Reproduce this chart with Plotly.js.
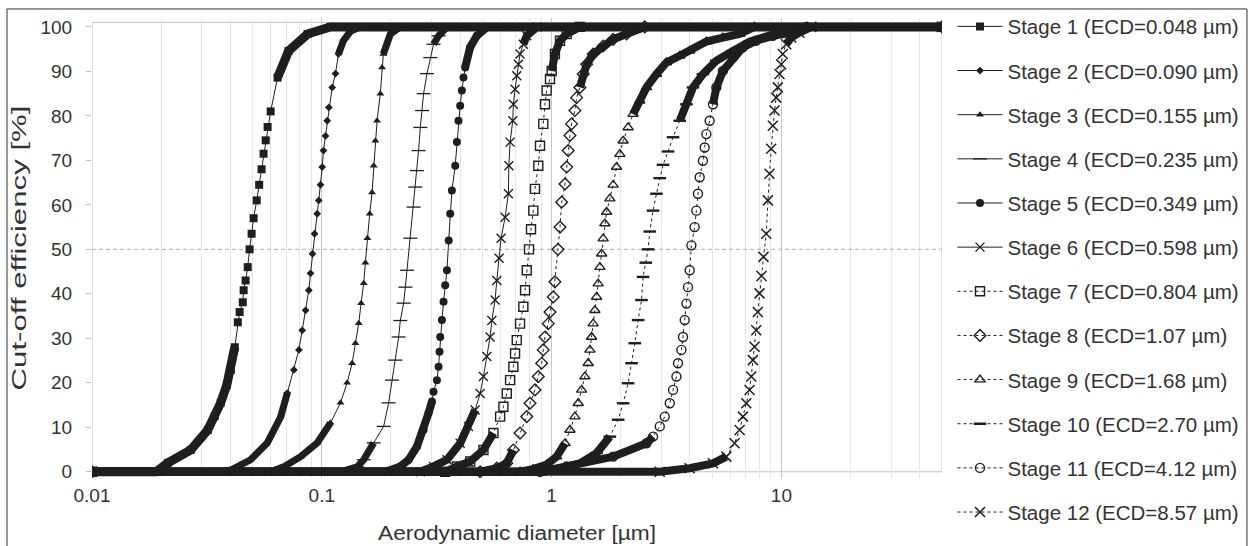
<!DOCTYPE html>
<html>
<head>
<meta charset="utf-8">
<script src="https://cdn.plot.ly/plotly-3.0.1.min.js"></script>
<style>html,body{margin:0;padding:0;background:#fff;}#chart{width:1250px;height:546px;}</style>
</head>
<body>
<div id="chart"></div>
<script>
// ---- Data (aerodynamic diameter in µm, cut-off efficiency in %) ----
const stageNames = ["Stage 1 (ECD=0.048 µm)","Stage 2 (ECD=0.090 µm)","Stage 3 (ECD=0.155 µm)","Stage 4 (ECD=0.235 µm)","Stage 5 (ECD=0.349 µm)","Stage 6 (ECD=0.598 µm)","Stage 7 (ECD=0.804 µm)","Stage 8 (ECD=1.07 µm)","Stage 9 (ECD=1.68 µm)","Stage 10 (ECD=2.70 µm)","Stage 11 (ECD=4.12 µm)","Stage 12 (ECD=8.57 µm)"];

const stage1_x = [0.01,0.019,0.0214,0.0269,0.0319,0.0342,0.0363,0.0386,0.0402,0.0418,0.0431,0.0439,0.0453,0.0457,0.0466,0.0476,0.0485,0.0495,0.0505,0.0521,0.0534,0.0547,0.0558,0.0570,0.0581,0.0599,0.0642,0.0717,0.0867,0.109,50];
const stage1_y = [0,0,2,4.9,9.4,12.5,15.5,19.5,22.9,28,33.6,35.9,38.1,40.8,43,46,50,53.5,57,61,64.5,68,71.5,74.5,77.5,81,88.6,94.6,98.4,100,100];

const stage2_x = [0.01,0.0363,0.0402,0.0490,0.0579,0.0662,0.0708,0.0756,0.0795,0.0822,0.0850,0.0878,0.0893,0.0911,0.0930,0.0955,0.0970,0.0987,0.1004,0.1017,0.1038,0.1056,0.1073,0.1110,0.1147,0.1182,0.1242,0.1332,0.1472,50];
const stage2_y = [0,0,0.4,2.7,6.5,12.3,17.7,22.9,27.4,31.8,36.3,40.8,44.6,49,53.5,58,61,64.5,68.5,72.2,75.5,78.9,81.9,86.4,89.5,93.9,96.9,99,100,100];

const stage3_x = [0.01,0.0599,0.0682,0.0808,0.0955,0.1091,0.1206,0.1289,0.1355,0.1401,0.1448,0.1483,0.1522,0.1548,0.1579,0.1616,0.1655,0.1682,0.1711,0.1740,0.1798,0.1829,0.1853,0.1988,0.2197,50];
const stage3_y = [0,0,1.1,3.4,6.5,11,15.5,20,24.4,28.9,33.4,37.9,42.4,47,52.5,58,62.8,68.8,74.4,78.9,85,90.9,93.9,98.4,100,100];

const stage4_x = [0.01,0.1206,0.1425,0.1522,0.1682,0.1859,0.1954,0.2022,0.2089,0.2160,0.2197,0.2271,0.2310,0.2349,0.2428,0.2509,0.2552,0.2596,0.2637,0.2683,0.2729,0.2773,0.2869,0.2965,0.3064,0.3222,0.3514,50];
const stage4_y = [0,0,1.1,2.7,6.5,10.2,15.5,20.6,25.1,30.3,34,37.9,41.5,45.3,52.5,59.5,64,67.7,72.2,77.4,81.2,85,89.5,93.1,96.1,98,100,100];

const stage5_x = [0.01,0.1891,0.2197,0.2387,0.2596,0.2773,0.2915,0.3016,0.3064,0.3170,0.3222,0.3254,0.3276,0.3333,0.3387,0.3444,0.3504,0.3567,0.3621,0.3683,0.3807,0.3871,0.3934,0.4001,0.4070,0.4136,0.4207,0.4422,0.4729,0.5243,50];
const stage5_y = [0,0,1.2,2.7,5.7,9.4,13.2,15.8,18,20.6,23.6,27,30.3,34.1,38.2,41.9,45.3,52,58,63.2,68.8,74.1,78.9,82.3,85.7,88.6,90.9,95.4,98,100,100];

const stage6_x = [0.01,0.2683,0.3064,0.3504,0.4001,0.4348,0.4649,0.4887,0.5051,0.5226,0.5401,0.5494,0.5678,0.5775,0.5910,0.6029,0.6276,0.6486,0.6519,0.6598,0.6778,0.6818,0.6935,0.7054,0.7168,0.7290,0.7535,0.7796,0.8644,50];
const stage6_y = [0,0,1.2,2.7,6.4,10.2,13.9,17.6,21.4,25.9,30.3,34,38.6,43,48,52.5,57.2,62.5,68.8,74.1,78.9,82.6,86,89,91.6,93.9,96.1,98,100,100];

const stage7_x = [0.01,0.3444,0.3871,0.4422,0.5051,0.5583,0.5970,0.6170,0.6384,0.6598,0.6818,0.6935,0.7054,0.7290,0.7535,0.7665,0.7796,0.7975,0.8137,0.8327,0.8468,0.8753,0.8904,0.9202,0.9359,0.9519,0.9840,1.001,1.034,1.088,1.163,1.328,50];
const stage7_y = [0,0,1.2,2.3,4.9,8.7,12.4,14.6,17.6,20.6,23.6,26.6,29.6,33.3,37.1,40.8,45.3,50,54.5,58.7,63.6,68.8,73.3,78.2,82.6,85.7,88.3,90.1,93.9,96.9,98.4,100,100];

const stage8_x = [0.01,0.4887,0.5775,0.6384,0.6818,0.7290,0.7796,0.8056,0.8468,0.8753,0.9057,0.9202,0.9359,0.9674,0.9840,1.017,1.034,1.066,1.088,1.106,1.144,1.163,1.181,1.202,1.222,1.263,1.285,1.328,1.373,1.421,1.517,1.677,1.853,2.119,2.544,50];
const stage8_y = [0,0,0.8,1.9,4.9,8.7,12.4,15.4,18.4,21.4,24.4,27.4,30.3,33.3,35.9,39.3,42.7,50,55,60.6,64.7,68.5,72.2,75.6,78.2,81.2,84.1,86.4,89.4,91.6,93.9,95.7,97.2,98.4,100,100];

const stage9_x = [0.01,0.7290,0.8304,0.9519,1.052,1.144,1.202,1.263,1.306,1.351,1.396,1.443,1.468,1.493,1.517,1.543,1.570,1.595,1.623,1.651,1.677,1.706,1.735,1.793,1.853,1.917,1.982,2.048,2.153,2.263,2.420,2.588,2.861,3.161,3.611,3.990,4.716,5.567,6.579,7.641,50];
const stage9_y = [0,0,0.6,1.6,3.4,6.4,9.4,12.4,15.4,18.4,21.4,24.4,27.4,30.3,33.3,36.3,39.3,42.3,46,49,52.4,55.8,58.4,61.4,64.5,68.5,71.4,74.4,77.4,80.4,83.4,86.4,89.4,92,93.5,94.6,96.7,97.6,98.4,100,100];

const stage10_x = [0.01,0.9359,1.088,1.328,1.570,1.793,1.948,2.048,2.153,2.228,2.302,2.380,2.462,2.502,2.570,2.630,2.675,2.764,2.861,2.956,3.055,3.212,3.377,3.611,3.861,4.124,4.557,5.212,6.152,7.270,9.178,10.84,50];
const stage10_y = [0,0,0.8,1.9,4.2,7.9,11.7,15.4,19.9,24.4,28.9,34.1,38.6,43.8,47,50,54,58.7,62.5,66,69,72,75.2,78.9,82.6,86.4,89.4,92.4,94.6,96.7,98.3,100,100];

const stage11_x = [0.01,0.8904,1.163,1.853,2.588,2.764,2.956,3.108,3.268,3.377,3.494,3.549,3.672,3.732,3.796,3.861,3.923,3.990,4.058,4.194,4.266,4.335,4.410,4.557,4.637,4.716,4.874,5.038,5.212,5.567,6.152,6.799,7.773,9.178,10.84,12.85,50];
const stage11_y = [0,0,1.2,3.4,6.4,7.9,10.2,12.4,15.4,18.4,21.4,24.4,27.4,30.3,34.1,37.8,41.5,45.3,50.9,55,58.7,62.5,66.2,69.9,72.9,75.9,78.9,82.6,86.4,90.1,93.1,95.4,96.9,98,98.6,100,100];

const stage12_x = [0.01,2.956,3.990,5.038,5.760,6.258,6.579,6.799,7.035,7.270,7.395,7.515,7.641,7.773,7.897,8.033,8.195,8.361,8.590,8.730,8.878,9.030,9.178,9.335,9.495,9.647,9.813,9.981,10.14,10.49,11.03,11.98,13.51,50];
const stage12_y = [0,0,0.8,1.9,3.4,6.4,9.4,12.4,15.4,18.4,21.4,25.1,28.1,31.8,35.9,40.1,44,48.3,53.5,61,67,72.6,77.8,81.2,84.1,86.4,89.4,91.6,93.9,96.1,97.6,98.7,100,100];

const cutLine_x = [0.01, 50];
const cutLine_y = [50, 50];

const xTickVals = [0.01, 0.1, 1, 10];
const xTickText = ["0.01", "0.1", "1", "10"];
const yTickVals = [0,10,20,30,40,50,60,70,80,90,100];

// ---- Styles ----
const allX = [stage1_x,stage2_x,stage3_x,stage4_x,stage5_x,stage6_x,stage7_x,stage8_x,stage9_x,stage10_x,stage11_x,stage12_x];
const allY = [stage1_y,stage2_y,stage3_y,stage4_y,stage5_y,stage6_y,stage7_y,stage8_y,stage9_y,stage10_y,stage11_y,stage12_y];
const symbols = ['square','diamond','triangle-up','line-ew','circle','x-thin','square-open','diamond-open','triangle-up-open','line-ew','circle-open','x-thin'];
const msize   = [8,6,7,10,8,9,9,9,9,9,9,10];
const mline   = [0,0,0,1.3,0,1.4,1.4,1.4,1.4,2.4,1.4,1.5];
const dashes  = ['solid','solid','solid','solid','solid','solid','3px,3px','3px,3px','3px,3px','3px,3px','3px,3px','3px,3px'];
const lowCut  = [30,18,12,10,16,14,10,8,8,8,8,5];
const highCut = [82,90,93,96,90,94,90,86,78,78,80,95];
const bandW   = [9,7,7,7,8,8,8,8,8,8,8,8];
const ink = '#1e1e1e';

const traces = [];
traces.push({x: cutLine_x, y: cutLine_y, mode:'lines', line:{color:'#b0b0b0', width:1, dash:'4px,3px'}, showlegend:false, hoverinfo:'skip'});
for (let i = 0; i < 12; i++) {
  const by = allY[i].map(v => (v <= lowCut[i] || v >= highCut[i]) ? v : null);
  traces.push({x: allX[i], y: by, mode:'lines', connectgaps:false, line:{color:ink, width:bandW[i]}, showlegend:false, legendgroup:'g'+i, hoverinfo:'skip'});
}
for (let i = 0; i < 12; i++) {
  traces.push({
    x: allX[i], y: allY[i], name: stageNames[i], mode:'lines+markers', legendgroup:'g'+i,
    line:{color:ink, width:1, dash:dashes[i]},
    marker:{symbol:symbols[i], size:msize[i], color: ink, line:{color:ink, width:mline[i]}}
  });
}

const layout = {
  width:1250, height:546,
  margin:{l:92, r:308, t:18, b:68},
  paper_bgcolor:'#ffffff', plot_bgcolor:'#ffffff',
  font:{family:'"Liberation Sans", Arial, sans-serif', color:'#333333'},
  xaxis:{
    type:'log', range:[-2, Math.log10(50)],
    tickvals:xTickVals, ticktext:xTickText,
    ticks:'', ticklabelstandoff:4,
    showgrid:true, gridcolor:'#c8c8c8', gridwidth:1,
    minor:{showgrid:true, gridcolor:'#e6e6e6', dtick:'D1', ticks:''},
    showline:false, zeroline:false,
    tickfont:{size:19, color:'#333333'},
    title:{text:'Aerodynamic diameter [µm]', font:{size:20, color:'#333333'}, standoff:20}
  },
  yaxis:{
    range:[-1.4,102], tickvals:yTickVals,
    ticks:'outside', ticklen:5, tickcolor:'#c0c0c0',
    showgrid:false, zeroline:false, showline:false,
    tickfont:{size:19, color:'#333333'},
    ticklabelstandoff:10,
    title:{text:'Cut-off efficiency [%]', font:{size:21, color:'#333333'}, standoff:8}
  },
  legend:{
    xref:'container', yref:'container', x:0.762, y:0.988, xanchor:'left', yanchor:'top',
    font:{size:20.5, color:'#333333'}, tracegroupgap:14.5, itemwidth:45,
    maxheight:540,
    bgcolor:'rgba(0,0,0,0)'
  },
  shapes:[
    {type:'rect', xref:'x', yref:'y', x0:0.01, x1:50, y0:0, y1:101, line:{color:'#c0c0c0', width:1}, layer:'below'},
    {type:'rect', xref:'paper', yref:'paper', x0:-0.1, x1:1.3588, y0:-0.18, y1:1.0196, line:{color:'#333333', width:1}, layer:'above'}
  ]
};

Plotly.newPlot('chart', traces, layout, {staticPlot:true, displayModeBar:false}).then(function(gd){
  const yt = gd.querySelector('.ytitle');
  if (yt) { yt.setAttribute('textLength', '285'); yt.setAttribute('lengthAdjust', 'spacingAndGlyphs'); }
  const xt = gd.querySelector('.xtitle');
  if (xt) { xt.setAttribute('textLength', '278'); xt.setAttribute('lengthAdjust', 'spacingAndGlyphs'); }
});
</script>
</body>
</html>
